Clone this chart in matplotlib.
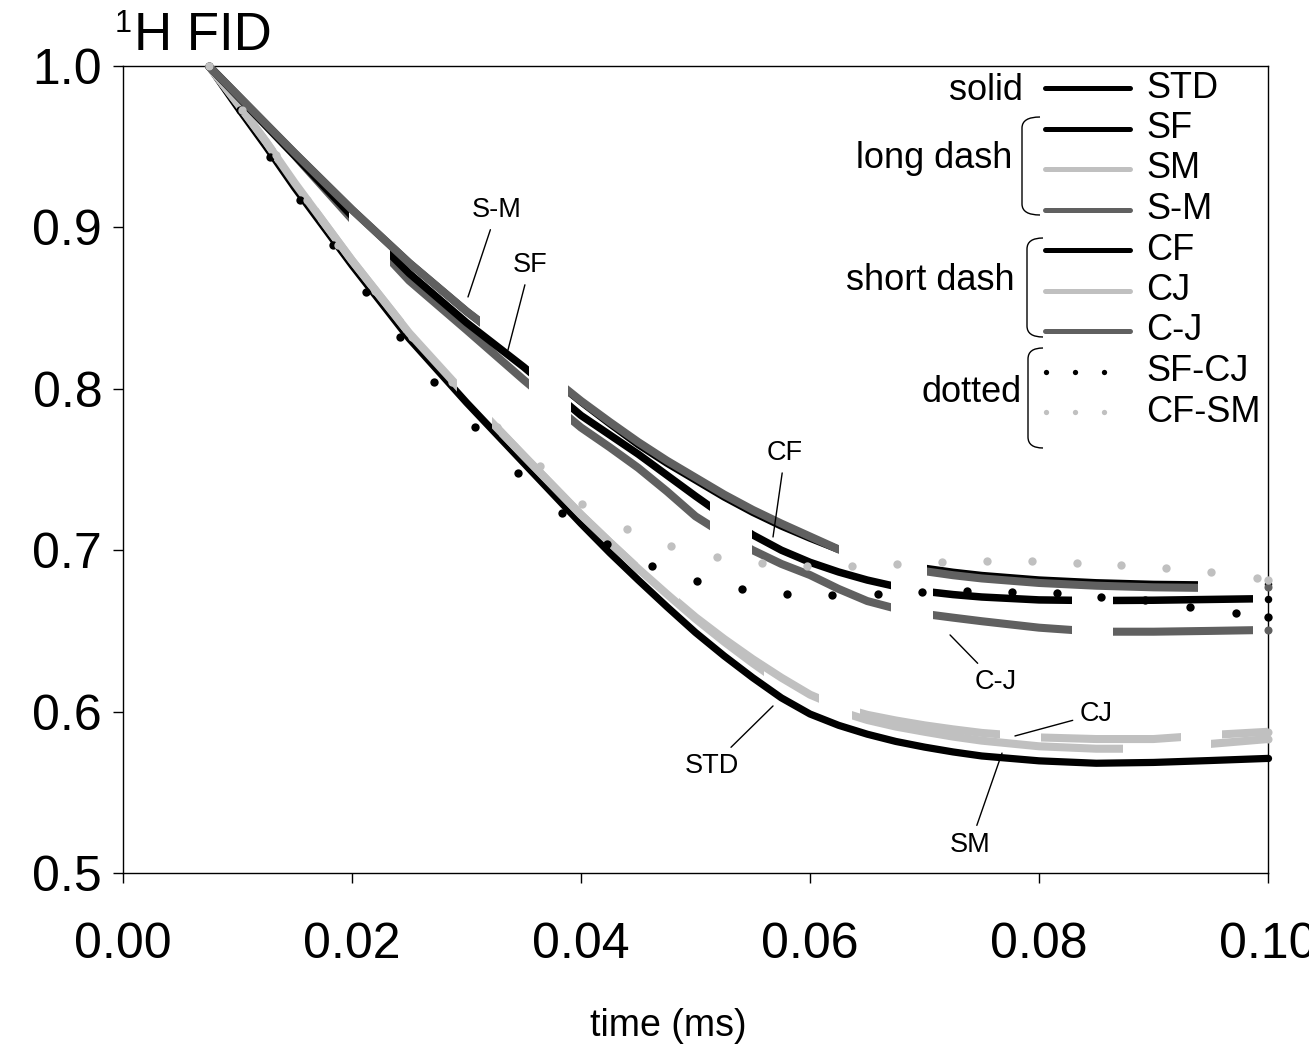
import numpy as np
import matplotlib.pyplot as plt
from matplotlib.path import Path
from matplotlib.patches import PathPatch

plt.rcParams['font.family'] = ['Liberation Sans', 'DejaVu Sans']

## The Data .. (time in ms, normalised 1H FID)
t = [0.0075, 0.01, 0.0125, 0.015, 0.02, 0.025, 0.03, 0.035, 0.04, 0.0425, 0.045,
     0.0475, 0.05, 0.0525, 0.055, 0.0575, 0.06, 0.0625, 0.065, 0.0675, 0.07,
     0.0725, 0.075, 0.08, 0.085, 0.09, 0.095, 0.10]

std = [1.0, 0.9745, 0.950, 0.9245, 0.8765, 0.831, 0.7915, 0.754, 0.7165, 0.6985, 0.6815,
       0.665, 0.649, 0.6345, 0.621, 0.6085, 0.5985, 0.5915, 0.586, 0.5815, 0.578,
       0.575, 0.5725, 0.5695, 0.568, 0.5685, 0.5697, 0.571]
sf = [1.0, 0.982, 0.964, 0.946, 0.911, 0.878, 0.848, 0.8205, 0.792, 0.7785, 0.7655,
      0.754, 0.7435, 0.733, 0.7235, 0.715, 0.7075, 0.7005, 0.6962, 0.6922, 0.6888,
      0.6863, 0.6843, 0.6815, 0.6798, 0.6788, 0.6784, 0.679]
sm = [1.0, 0.977, 0.953, 0.9275, 0.8795, 0.8345, 0.7955, 0.7585, 0.722, 0.705, 0.6885,
      0.6728, 0.6575, 0.6433, 0.630, 0.6175, 0.6075, 0.6003, 0.5948, 0.5907, 0.5875,
      0.5845, 0.582, 0.5785, 0.577, 0.577, 0.580, 0.583]
s_m = [1.0, 0.982, 0.964, 0.946, 0.911, 0.878, 0.848, 0.821, 0.7925, 0.7795, 0.767,
       0.7555, 0.745, 0.7345, 0.725, 0.7165, 0.7085, 0.7005, 0.6955, 0.691, 0.687,
       0.6845, 0.6825, 0.6797, 0.678, 0.677, 0.6766, 0.677]
cf = [1.0, 0.9815, 0.963, 0.9445, 0.907, 0.8715, 0.841, 0.8135, 0.7835, 0.7715, 0.7595,
      0.7465, 0.7335, 0.721, 0.7095, 0.700, 0.6925, 0.6865, 0.6815, 0.6775, 0.6745,
      0.6725, 0.671, 0.6692, 0.6688, 0.669, 0.6695, 0.670]
cj = [1.0, 0.977, 0.953, 0.9275, 0.8795, 0.8345, 0.7955, 0.7585, 0.722, 0.705, 0.6885,
      0.6735, 0.6585, 0.645, 0.6325, 0.621, 0.6105, 0.603, 0.598, 0.5945, 0.5915,
      0.589, 0.5868, 0.584, 0.583, 0.583, 0.5855, 0.5875]
c_j = [1.0, 0.9815, 0.963, 0.9445, 0.905, 0.867, 0.8365, 0.8055, 0.776, 0.7638, 0.751,
       0.7365, 0.721, 0.7098, 0.700, 0.6915, 0.6846, 0.676, 0.6685, 0.6638, 0.6605,
       0.6582, 0.656, 0.652, 0.6495, 0.6495, 0.650, 0.6506]

# dotted series are read dot by dot
t_sfcj = [0.0075, 0.0102, 0.0128, 0.0155, 0.0183, 0.0212, 0.0242, 0.0272, 0.0307,
          0.0345, 0.0383, 0.0423, 0.0462, 0.0501, 0.0541, 0.0580, 0.0619, 0.0659,
          0.0698, 0.0737, 0.0776, 0.0816, 0.0854, 0.0893, 0.0932, 0.0972, 0.1000]
sf_cj = [1.000, 0.9727, 0.9436, 0.9170, 0.8891, 0.8600, 0.8321, 0.8042, 0.7763,
         0.7478, 0.7230, 0.7038, 0.6902, 0.6809, 0.6760, 0.6729, 0.6722, 0.6729,
         0.6741, 0.6747, 0.6741, 0.6735, 0.6710, 0.6692, 0.6648, 0.6611, 0.6586]
t_cfsm = [0.0075, 0.0104, 0.0134, 0.0161, 0.0188, 0.0220, 0.0252, 0.0287, 0.0327,
          0.0364, 0.0401, 0.0440, 0.0479, 0.0519, 0.0558, 0.0597, 0.0637, 0.0676,
          0.0715, 0.0755, 0.0794, 0.0833, 0.0872, 0.0911, 0.0950, 0.0990, 0.1000]
cf_sm = [1.000, 0.9727, 0.9449, 0.9170, 0.8891, 0.8606, 0.8321, 0.8042, 0.7763,
         0.7521, 0.7286, 0.7131, 0.7026, 0.6958, 0.6921, 0.6902, 0.6902, 0.6915,
         0.6927, 0.6933, 0.6933, 0.6921, 0.6908, 0.6890, 0.6865, 0.6828, 0.6815]

BLACK = 'black'
LIGHT = '#c0c0c0'
DARK = '#606060'

LONG = (0.02367, 0.0077)    # dash, gap (ms)
SHORT = (0.0122, 0.0036)

W, H = 1309, 1052
fig = plt.figure(figsize=(W / 100, H / 100), dpi=100)
ax = fig.add_axes([123 / W, 1 - 873 / H, 1145 / W, 807 / H])


def dash_clip(line, start, pattern, stop=0.11):
    # dashes are laid out along time, like the original program did
    on, off = pattern
    verts, codes = [], []
    a = start
    first = True
    while a < stop:
        lo = 0.0 if first else a
        b = a + on
        verts += [(lo, 0), (b, 0), (b, 2), (lo, 2), (lo, 0)]
        codes += [Path.MOVETO, Path.LINETO, Path.LINETO, Path.LINETO, Path.CLOSEPOLY]
        a = b + off
        first = False
    line.set_clip_path(Path(verts, codes), ax.transData)


series = [
    # values, colour, width, dash pattern, phase, zorder
    (std, BLACK, 5.2, None, None, 2),
    (sm, LIGHT, 5.8, LONG, 0.0009, 3),
    (cj, LIGHT, 5.8, SHORT, 0.0012, 4),
    (c_j, DARK, 5.8, SHORT, 0.0075, 5),
    (cf, BLACK, 5.4, SHORT, 0.0075, 6),
    (sf, BLACK, 5.4, LONG, 0.0075, 7),
    (s_m, DARK, 5.8, LONG, 0.0075, 8),
]
for vals, col, lw, pat, ph, z in series:
    ln, = ax.plot(t, vals, color=col, lw=lw, solid_capstyle='round',
                  solid_joinstyle='round', zorder=z)
    if pat is not None:
        dash_clip(ln, ph, pat)
    ax.plot(t[-1], vals[-1], 'o', color=col, ms=lw, mew=0, zorder=z, clip_on=False)

ax.plot(t_sfcj, sf_cj, 'o', color=BLACK, ms=6.0, mew=0, zorder=9, clip_on=False)
ax.plot(t_cfsm, cf_sm, 'o', color=LIGHT, ms=6.0, mew=0, zorder=10, clip_on=False)

ax.set_xlim(0, 0.10)
ax.set_ylim(0.5, 1.0)
ax.set_xticks([0.0, 0.02, 0.04, 0.06, 0.08, 0.10])
ax.set_xticklabels(['0.00', '0.02', '0.04', '0.06', '0.08', '0.10'])
ax.set_yticks([0.5, 0.6, 0.7, 0.8, 0.9, 1.0])
ax.set_yticklabels(['0.5', '0.6', '0.7', '0.8', '0.9', '1.0'])
ax.tick_params(axis='both', direction='out', length=7, width=1.0, labelsize=36)
ax.tick_params(axis='x', pad=28)
ax.tick_params(axis='y', pad=8)
for sp in ax.spines.values():
    sp.set_linewidth(1.0)
ax.set_xlabel('time (ms)', fontsize=27, va='center')
ax.xaxis.set_label_coords(0.476, -0.19)

# title 1H FID
fig.text(115 / W, 1 - 32 / H, '1', fontsize=22, va='baseline', ha='left')
fig.text(134 / W, 1 - 50 / H, 'H FID', fontsize=38, va='baseline', ha='left')

# labels pointing at the curves
notes = [
    ('S-M', (0.03013, 0.8569), (0.03266, 0.9108)),
    ('SF', (0.03362, 0.8240), (0.03555, 0.8767)),
    ('CF', (0.05677, 0.7082), (0.05782, 0.7602)),
    ('C-J', (0.07223, 0.6475), (0.07624, 0.6183)),
    ('CJ', (0.0779, 0.5849), (0.08498, 0.5985)),
    ('SM', (0.07677, 0.5743), (0.07397, 0.5173)),
    ('STD', (0.05677, 0.6035), (0.05144, 0.5663)),
]
for lab, tip, txt in notes:
    ax.annotate(lab, xy=tip, xytext=txt, ha='center', va='center', fontsize=19.5,
                zorder=12,
                arrowprops=dict(arrowstyle='-', lw=1.0, color='black',
                                shrinkA=3, shrinkB=0))


## legend drawn by hand
def axp(x, y):
    return (x - 123) / 1145, (873 - y) / 807


leg = [('STD', BLACK, 'line'), ('SF', BLACK, 'line'), ('SM', LIGHT, 'line'),
       ('S-M', DARK, 'line'), ('CF', BLACK, 'line'), ('CJ', LIGHT, 'line'),
       ('C-J', DARK, 'line'), ('SF-CJ', BLACK, 'dots'), ('CF-SM', LIGHT, 'dots')]
for i, (lab, col, kind) in enumerate(leg):
    yy = 88 + 40.5 * i
    if kind == 'line':
        x0, y0 = axp(1045, yy)
        x1, _ = axp(1130, yy)
        ax.plot([x0, x1], [y0, y0], color=col, lw=3.6, solid_capstyle='round',
                transform=ax.transAxes, clip_on=False, zorder=11)
    else:
        xs = [axp(xx, yy)[0] for xx in (1046, 1075, 1104)]
        ax.plot(xs, [axp(0, yy)[1]] * 3, 'o', color=col, ms=3.8, mew=0,
                transform=ax.transAxes, clip_on=False, zorder=11)
    tx, ty = axp(1146, yy)
    ax.text(tx, ty, lab, fontsize=26, ha='left', va='center', transform=ax.transAxes)

groups = [('solid', 1023, 90), ('long dash', 1012, 158),
          ('short dash', 1015, 280), ('dotted', 1022, 393)]
for lab, xr, yy in groups:
    tx, ty = axp(xr, yy)
    ax.text(tx, ty, lab, fontsize=26, ha='right', va='center', transform=ax.transAxes)


def brace(x_tip, x_bar, y_top, y_bot, r):
    pts = [(x_tip, y_top), (x_bar, y_top), (x_bar, y_top + r),
           (x_bar, y_bot - r), (x_bar, y_bot), (x_tip, y_bot)]
    codes = [Path.MOVETO, Path.CURVE3, Path.CURVE3, Path.LINETO, Path.CURVE3, Path.CURVE3]
    p = Path([axp(*q) for q in pts], codes)
    ax.add_patch(PathPatch(p, fill=False, lw=1.0, color='black',
                           transform=ax.transAxes, clip_on=False))


brace(1040, 1022, 117, 215, 11)
brace(1043, 1027, 238, 337, 11)
brace(1043, 1028, 348, 448, 11)

plt.savefig('out.png', dpi=100)
